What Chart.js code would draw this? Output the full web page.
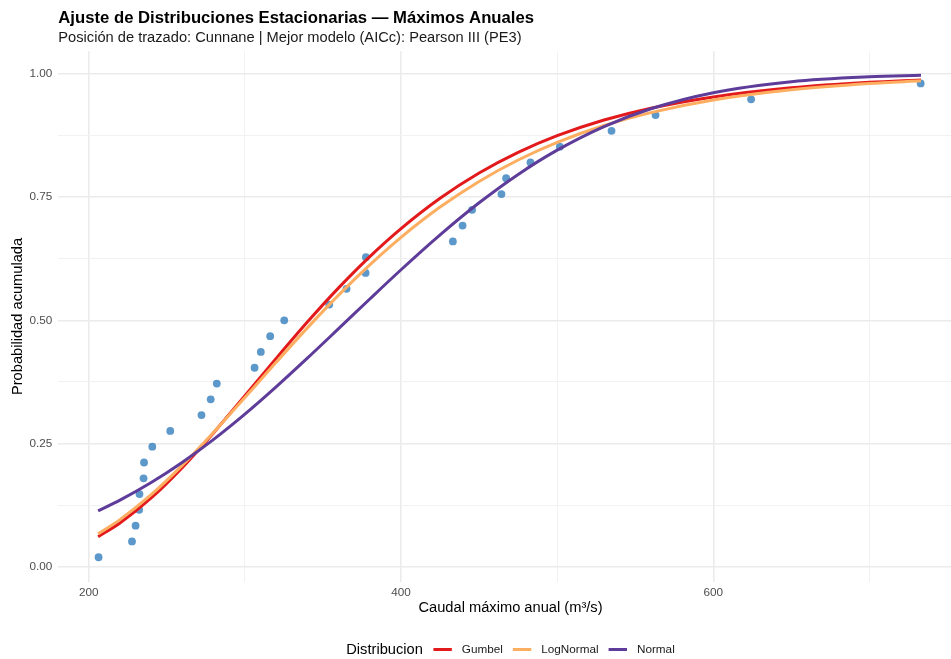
<!DOCTYPE html>
<html><head><meta charset="utf-8">
<script src="https://cdn.jsdelivr.net/npm/chart.js@4.4.1/dist/chart.umd.min.js"></script>
<style>html,body{margin:0;padding:0;overflow:hidden;background:#fff;width:951px;height:659px}canvas{display:block}</style>
</head><body><canvas id="c" width="970" height="659"></canvas>
<script>
// Observed annual maxima (m3/s) and Cunnane plotting positions
const caudalObs = [206.3,227.7,230.0,232.3,232.5,235.1,235.4,240.7,252.2,272.2,278.1,282.0,306.2,310.2,316.2,325.2,354.0,365.1,377.3,377.5,433.2,439.4,445.5,464.3,467.3,482.9,501.7,534.8,563.0,624.2,732.8];
const probObs = [0.0192,0.0513,0.0833,0.1154,0.1474,0.1795,0.2115,0.2436,0.2756,0.3077,0.3397,0.3718,0.4038,0.4359,0.4679,0.5000,0.5321,0.5641,0.5962,0.6282,0.6603,0.6923,0.7244,0.7564,0.7885,0.8205,0.8526,0.8846,0.9167,0.9487,0.9808];

// Fitted CDF curves read along a grid of discharges
const curveX = [206,220,240,260,280,300,320,340,360,380,400,425,450,475,500,530,560,600,650,700,733];
const gumbelP = [0.0609,0.0888,0.1396,0.2017,0.2721,0.3470,0.4228,0.4966,0.5660,0.6295,0.6863,0.7478,0.7990,0.8409,0.8748,0.9066,0.9306,0.9535,0.9720,0.9832,0.9880];
const lognormalP = [0.0669,0.0956,0.1461,0.2061,0.2729,0.3435,0.4149,0.4848,0.5512,0.6127,0.6685,0.7299,0.7820,0.8255,0.8613,0.8955,0.9217,0.9472,0.9679,0.9806,0.9861];
const normalP = [0.1134,0.1352,0.1709,0.2121,0.2585,0.3097,0.3650,0.4232,0.4831,0.5434,0.6027,0.6735,0.7386,0.7962,0.8455,0.8934,0.9294,0.9620,0.9843,0.9943,0.9973];

const seriesNames = ['Gumbel','LogNormal','Normal'];
const seriesColors = ['#E31A1C','#FDAE61','#5E3C99'];

const xMajorTicks = [200,400,600];
const xMinorTicks = [300,500,700];
const yMajorTicks = [0,0.25,0.5,0.75,1];
const yMinorTicks = [0.125,0.375,0.625,0.875];

const titleText = 'Ajuste de Distribuciones Estacionarias — Máximos Anuales';
const subtitleText = 'Posición de trazado: Cunnane | Mejor modelo (AICc): Pearson III (PE3)';
const xTitle = 'Caudal máximo anual (m³/s)';
const yTitle = 'Probabilidad acumulada';
const legendTitle = 'Distribucion';

const FONT = '"Liberation Sans", Arial, Helvetica, sans-serif';
const toXY = (xs, ys) => xs.map((x, i) => ({x: x, y: ys[i]}));
const curves = [gumbelP, lognormalP, normalP];

const lineSets = curves.map((ys, k) => ({
  type: 'line',
  label: seriesNames[k],
  data: toXY(curveX, ys),
  borderColor: seriesColors[k],
  backgroundColor: seriesColors[k],
  borderWidth: 3,
  pointRadius: 0,
  fill: false,
  cubicInterpolationMode: 'monotone',
  order: 3 - k
}));

const pointSet = {
  type: 'scatter',
  label: 'Observados',
  data: toXY(caudalObs, probObs),
  backgroundColor: 'rgba(53,126,189,0.8)',
  borderWidth: 0,
  pointRadius: 3.9,
  order: 10
};

const isIn = (arr, v) => arr.some(a => Math.abs(a - v) < 1e-9);

const decor = {
  id: 'decor',
  afterDraw(chart) {
    const ctx = chart.ctx;
    const area = chart.chartArea;
    ctx.save();
    ctx.fillStyle = '#000';
    ctx.textAlign = 'left';
    ctx.textBaseline = 'alphabetic';
    ctx.font = 'bold 16.7px ' + FONT;
    ctx.fillText(titleText, area.left, 22.5);
    ctx.font = '14.67px ' + FONT;
    ctx.fillStyle = '#1a1a1a';
    ctx.fillText(subtitleText, area.left, 42);

    // legend
    const cx = (area.left + area.right) / 2;
    const ly = 650;
    ctx.font = '14.67px ' + FONT;
    const wT = ctx.measureText(legendTitle).width;
    ctx.font = '11.73px ' + FONT;
    const wItems = seriesNames.map(n => ctx.measureText(n).width);
    const keyW = 18.4, gapTK = 10.6, gapKT = 10, gapIt = 10;
    const total = wT + gapTK + wItems.reduce((s, w) => s + keyW + gapKT + w, 0) + gapIt * (seriesNames.length - 1);
    let x = cx - total / 2;
    ctx.textBaseline = 'middle';
    ctx.fillStyle = '#000';
    ctx.font = '14.67px ' + FONT;
    ctx.fillText(legendTitle, x, ly);
    x += wT + gapTK;
    ctx.font = '11.73px ' + FONT;
    seriesNames.forEach((n, k) => {
      ctx.strokeStyle = seriesColors[k];
      ctx.lineWidth = 3;
      ctx.beginPath();
      ctx.moveTo(x, ly - 0.5);
      ctx.lineTo(x + keyW, ly - 0.5);
      ctx.stroke();
      x += keyW + gapKT;
      ctx.fillStyle = '#1a1a1a';
      ctx.fillText(n, x, ly);
      x += wItems[k] + gapIt;
    });
    ctx.restore();
  }
};

new Chart(document.getElementById('c'), {
  data: { datasets: [...lineSets, pointSet] },
  options: {
    responsive: false,
    animation: false,
    devicePixelRatio: 1,
    layout: { padding: { top: 51.2, right: 7.3, bottom: 41.9, left: 0 } },
    plugins: { legend: { display: false }, tooltip: { enabled: false } },
    scales: {
      x: {
        type: 'linear',
        min: 180.5, max: 759.7,
        afterBuildTicks: s => { s.ticks = [...xMajorTicks, ...xMinorTicks].sort((a,b)=>a-b).map(v => ({value: v})); },
        afterFit: s => { s.height = 35.4; },
        ticks: {
          padding: 4,
          color: '#4D4D4D',
          font: { family: FONT, size: 11.73 },
          maxRotation: 0,
          autoSkip: false,
          callback: v => isIn(xMajorTicks, v) ? String(v) : ''
        },
        grid: {
          drawTicks: false,
          color: c => (c.tick && isIn(xMinorTicks, c.tick.value)) ? '#F0F0F0' : '#EBEBEB',
          lineWidth: c => (c.tick && isIn(xMinorTicks, c.tick.value)) ? 0.9 : 1.6
        },
        border: { display: false },
        title: { display: true, text: xTitle, color: '#000', font: { family: FONT, size: 14.67 }, padding: { top: 0, bottom: 0 } }
      },
      y: {
        type: 'linear',
        min: -0.0304, max: 1.0463,
        afterBuildTicks: s => { s.ticks = [...yMajorTicks, ...yMinorTicks].sort((a,b)=>a-b).map(v => ({value: v})); },
        afterFit: s => { s.width = 58.3; },
        ticks: {
          padding: 6,
          color: '#4D4D4D',
          font: { family: FONT, size: 11.73 },
          autoSkip: false,
          callback: v => isIn(yMajorTicks, v) ? v.toFixed(2) : ''
        },
        grid: {
          drawTicks: false,
          color: c => (c.tick && isIn(yMinorTicks, c.tick.value)) ? '#F0F0F0' : '#EBEBEB',
          lineWidth: c => (c.tick && isIn(yMinorTicks, c.tick.value)) ? 0.9 : 1.6
        },
        border: { display: false },
        title: { display: true, text: yTitle, color: '#000', font: { family: FONT, size: 14.67 }, padding: { top: 9.5, bottom: 0 } }
      }
    }
  },
  plugins: [decor]
});
</script>
</body></html>
